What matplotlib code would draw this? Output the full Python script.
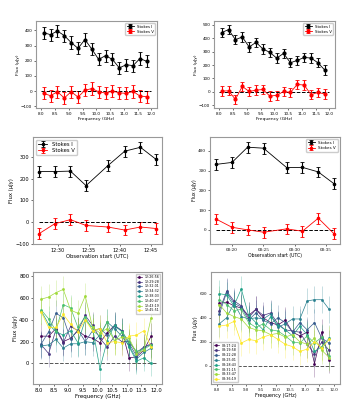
import datetime as dt
import matplotlib
matplotlib.use("Agg")
import matplotlib.pyplot as plt
import matplotlib.dates as mdates
import numpy as np

# --- panel 1 / 2 : spectra -------------------------------------------------
freq = [8.08, 8.33, 8.58, 8.83, 9.08, 9.33, 9.58, 9.83,
        10.08, 10.33, 10.58, 10.83, 11.08, 11.33, 11.58, 11.83]

a_I = [385, 372, 396, 366, 320, 282, 340, 277, 209, 234, 209, 153, 174, 168, 215, 196]
a_V = [-15, -30, -4, -45, -4, -39, 6, 17, -4, -13, 0, -11, -15, -2, -32, -37]
a_err = 40

b_I = [443, 465, 390, 410, 335, 370, 320, 295, 252, 287, 217, 235, 257, 252, 217, 162]
b_V = [5, 7, -57, 40, 2, 12, 17, -32, -27, 2, -5, 55, 50, -22, -5, -17]
b_err = 35

# --- panel 3 / 4 : light curves --------------------------------------------
times_c = ["12:26:56", "12:29:28", "12:32:01", "12:34:32",
           "12:38:03", "12:40:47", "12:43:19", "12:45:51"]
c_I = [233, 233, 235, 168, 260, 327, 345, 289]
c_V = [-54, -8, 11, -16, -23, -37, -23, -30]
c_err = 25

times_d = ["08:17:24", "08:19:58", "08:22:28", "08:25:01",
           "08:28:43", "08:31:15", "08:33:47", "08:36:19"]
d_I = [331, 341, 418, 413, 315, 316, 293, 233]
d_V = [55, 13, 0, -12, 5, -7, 59, -20]
d_err = 27

# --- panel 5 / 6 : spectra per scan ----------------------------------------
e_spec = [
    [250, 250, 320, 200, 230, 300, 250, 230, 190, 280, 350, 300, 50, 60, 120, 250],
    [170, 90, 310, 190, 340, 300, 440, 350, 230, 150, 250, 200, 200, 100, 150, 180],
    [180, 290, 460, 420, 220, 310, 200, 300, 320, 260, 340, 300, 180, 70, 150, 170],
    [160, 170, 220, 140, 180, 180, 200, 190, 260, 380, 320, 250, 160, 40, 100, 140],
    [480, 360, 290, 260, 300, 190, 400, 330, -50, 210, 350, 290, 150, 20, 50, 0],
    [490, 410, 300, 540, 510, 330, 430, 300, 250, 380, 200, 290, 200, 110, 130, 170],
    [590, 610, 650, 680, 490, 460, 620, 330, 280, 320, 210, 240, 230, 90, 120, 420],
    [470, 330, 330, 450, 360, 290, 400, 300, 320, 190, 200, 190, 250, 260, 300, 150],
]
e_err = 120

f_spec = [
    [520, 530, 500, 480, 420, 470, 400, 360, 340, 380, 280, 250, 280, 20, 280, 50],
    [460, 620, 540, 500, 400, 470, 420, 440, 350, 300, 290, 280, 180, 100, 200, 130],
    [430, 610, 520, 490, 380, 440, 380, 350, 400, 360, 280, 360, 300, 360, 230, 190],
    [350, 400, 520, 410, 390, 400, 390, 430, 320, 350, 390, 390, 540, 550, 550, 470],
    [600, 590, 500, 640, 420, 360, 300, 410, 340, 300, 250, 330, 260, 120, 160, 230],
    [550, 510, 460, 470, 360, 320, 350, 300, 290, 250, 200, 190, 250, 190, 240, 80],
    [510, 440, 410, 390, 320, 300, 290, 260, 270, 240, 260, 200, 180, 230, 130, 70],
    [330, 340, 370, 190, 220, 210, 240, 260, 220, 180, 160, 120, 140, 200, 150, 220],
]
f_err = 110

FLUX = "Flux (\u03bcJy)"


def to_dt(ts):
    return [dt.datetime.strptime("2020-01-01 " + t, "%Y-%m-%d %H:%M:%S") for t in ts]


def style(ax, fs, serif=False):
    for s in ax.spines.values():
        s.set_color("#999999")
        s.set_linewidth(0.8)
    ax.tick_params(labelsize=fs, length=1.5, width=0.4, pad=1.2)
    if serif:
        for lab in ax.get_xticklabels() + ax.get_yticklabels():
            lab.set_family("DejaVu Serif")


def stokes(ax, x, I, V, err, fs, loc, ms=1.6):
    ax.errorbar(x, I, yerr=err, fmt="o-", color="k", ms=ms, lw=0.6,
                elinewidth=0.8, capsize=1.2, capthick=0.6, label="Stokes I")
    ax.errorbar(x, V, yerr=err, fmt="o-", color="r", ms=ms, lw=0.6,
                elinewidth=0.8, capsize=1.2, capthick=0.6, label="Stokes V")
    ax.legend(loc=loc, fontsize=fs, handlelength=1.8, borderpad=0.4,
              labelspacing=0.3, framealpha=1)


def scans(ax, x, spec, err, labels, fs, loc):
    cols = plt.cm.viridis(np.linspace(0, 1, len(spec)))
    for y, c, lab in zip(spec, cols, labels):
        ax.errorbar(x, y, yerr=err, fmt="s-", color=c, ms=0.9, lw=0.5,
                    elinewidth=0.6, ecolor=(*c[:3], 0.3), label=lab)
    ax.hlines(0, 8.0, 12.0, colors="#555555", linestyles="--", lw=0.7)
    ax.legend(loc=loc, fontsize=fs, handlelength=1.5, borderpad=0.4,
              labelspacing=0.25, framealpha=1)


fig = plt.figure(figsize=(3.56, 4.0), dpi=100)

# panel 1
ax1 = fig.add_axes([0.101, 0.73, 0.340, 0.2175])
stokes(ax1, freq, a_I, a_V, a_err, 2.8, "upper right", ms=2.0)
ax1.hlines(0, 8.0, 12.0, colors="k", linestyles="--", lw=0.7)
ax1.set_xticks([8.0, 8.5, 9.0, 9.5, 10.0, 10.5, 11.0, 11.5, 12.0])
ax1.set_xlabel("Frequency (GHz)", fontsize=3.2, labelpad=1)
ax1.set_ylabel(FLUX, fontsize=3.2, labelpad=1)
style(ax1, 3)

# panel 2
ax2 = fig.add_axes([0.601, 0.73, 0.340, 0.2175])
stokes(ax2, freq, b_I, b_V, b_err, 2.8, "upper right", ms=2.0)
ax2.hlines(0, 8.0, 12.0, colors="k", linestyles="--", lw=0.7)
ax2.set_xticks([8.0, 8.5, 9.0, 9.5, 10.0, 10.5, 11.0, 11.5, 12.0])
ax2.set_xlabel("Frequency (GHz)", fontsize=3.2, labelpad=1)
ax2.set_ylabel(FLUX, fontsize=3.2, labelpad=1)
style(ax2, 3)

# panel 3
tc = to_dt(times_c)
ax3 = fig.add_axes([0.093, 0.39, 0.362, 0.2675])
stokes(ax3, tc, c_I, c_V, c_err, 3.8, "upper left")
ax3.hlines(0, tc[0], tc[-1], colors="k", linestyles="--", lw=0.7)
ax3.xaxis.set_major_locator(mdates.MinuteLocator(byminute=[30, 35, 40, 45]))
ax3.xaxis.set_major_formatter(mdates.DateFormatter("%H:%M"))
ax3.set_yticks([-100, 0, 100, 200, 300])
ax3.set_xlabel("Observation start (UTC)", fontsize=3.8, labelpad=1)
ax3.set_ylabel(FLUX, fontsize=3.8, labelpad=1)
style(ax3, 3.6)

# panel 4
td = to_dt(times_d)
ax4 = fig.add_axes([0.590, 0.39, 0.365, 0.2675])
stokes(ax4, td, d_I, d_V, d_err, 3.0, "upper right")
ax4.hlines(0, td[0], td[-1], colors="k", linestyles="--", lw=0.7)
ax4.xaxis.set_major_locator(mdates.MinuteLocator(byminute=[20, 25, 30, 35]))
ax4.xaxis.set_major_formatter(mdates.DateFormatter("%H:%M"))
ax4.set_yticks([0, 100, 200, 300, 400])
ax4.set_xlabel("Observation start (UTC)", fontsize=3.3, labelpad=1)
ax4.set_ylabel(FLUX, fontsize=3.3, labelpad=1)
style(ax4, 3, serif=True)

# panel 5
ax5 = fig.add_axes([0.093, 0.04, 0.362, 0.28])
scans(ax5, freq, e_spec, e_err, times_c, 2.3, "upper right")
ax5.set_xticks([8.0, 8.5, 9.0, 9.5, 10.0, 10.5, 11.0, 11.5, 12.0])
ax5.set_yticks([0, 200, 400, 600, 800])
ax5.set_ylim(-190, 840)
ax5.set_xlabel("Frequency (GHz)", fontsize=4, labelpad=1)
ax5.set_ylabel(FLUX, fontsize=4, labelpad=1)
style(ax5, 3.8)

# panel 6
ax6 = fig.add_axes([0.593, 0.04, 0.362, 0.28])
scans(ax6, freq, f_spec, f_err, times_d, 2.3, "lower left")
ax6.set_xticks([8.0, 8.5, 9.0, 9.5, 10.0, 10.5, 11.0, 11.5, 12.0])
ax6.set_yticks([0, 200, 400, 600])
ax6.set_ylim(-150, 780)
ax6.set_xlabel("Frequency (GHz)", fontsize=3.6, labelpad=1)
ax6.set_ylabel(FLUX, fontsize=3.6, labelpad=1)
style(ax6, 2.8, serif=True)

fig.savefig("out.png", dpi=100)
